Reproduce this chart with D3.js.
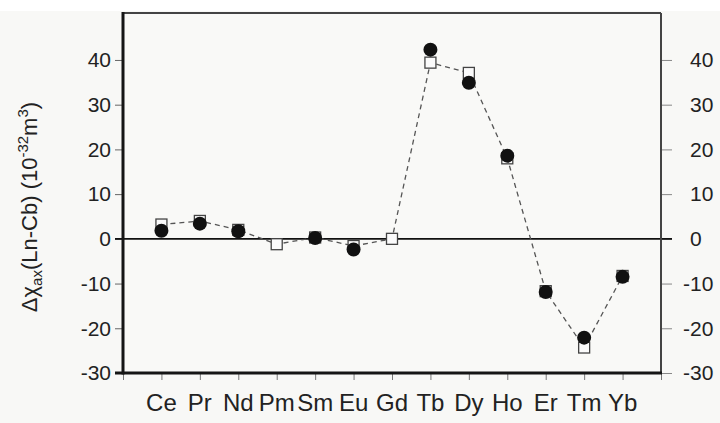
<!DOCTYPE html>
<html>
<head>
<meta charset="utf-8">
<script src="https://cdn.jsdelivr.net/npm/d3@7"></script>
<style>
  body { margin: 0; background: #f8f8f6; }
  svg { display: block; font-family: "Liberation Sans", Arial, sans-serif; }
</style>
</head>
<body>
<script>
// lanthanides along the x axis
var elements = ['Ce', 'Pr', 'Nd', 'Pm', 'Sm', 'Eu', 'Gd', 'Tb', 'Dy', 'Ho', 'Er', 'Tm', 'Yb'];
// open squares (joined by the dashed line)
var squareVals = [3.2, 4.0, 2.0, -1.2, 0.3, -1.6, 0.0, 39.4, 37.1, 18.0, -11.7, -24.3, -8.3];
// filled circles (no value for Pm and Gd)
var circleVals = [1.8, 3.4, 1.7, null, 0.2, -2.4, null, 42.3, 34.9, 18.6, -11.9, -22.1, -8.5];
var yTicks = [-30, -20, -10, 0, 10, 20, 30, 40];

var W = 720, H = 423;
var pL = 123, pR = 661, pT = 13, pB = 373;

var svg = d3.select('body').append('svg')
  .attr('width', W)
  .attr('height', H);

svg.append('rect').attr('width', W).attr('height', H).attr('fill', '#f8f8f6');
svg.append('rect').attr('width', W).attr('height', 11).attr('fill', '#ffffff');

var x = d3.scaleLinear().domain([0, elements.length + 1]).range([pL, pR]);
var y = d3.scaleLinear().domain([-30, 50.5]).range([pB, pT]);

// plot area
svg.append('rect')
  .attr('x', pL).attr('y', pT)
  .attr('width', pR - pL).attr('height', pB - pT)
  .attr('fill', '#f9f9f7');

// left axis (plain hyphen for negatives, as in the original)
var yLeft = d3.axisLeft(y).tickValues(yTicks).tickSize(8).tickPadding(4)
  .tickFormat(function(d) { return String(d); });
var gl = svg.append('g').attr('transform', 'translate(' + pL + ',0)').call(yLeft);
gl.select('.domain').remove();
gl.selectAll('line').attr('stroke', '#666');
gl.selectAll('text').attr('font-size', 21).attr('fill', '#222');

// right axis, labels run off the edge like the original crop
var yRight = d3.axisRight(y).tickValues(yTicks).tickSize(11).tickFormat('');
var gr = svg.append('g').attr('transform', 'translate(' + pR + ',0)').call(yRight);
gr.select('.domain').remove();
gr.selectAll('line').attr('stroke', '#888');
svg.append('g').selectAll('text')
  .data(yTicks)
  .enter().append('text')
  .attr('x', function(d) { return d < 0 ? 683 : 690; })
  .attr('y', function(d) { return y(d); })
  .attr('dy', '0.35em')
  .attr('font-size', 21)
  .attr('fill', '#222')
  .text(function(d) { return String(d); });

// bottom ticks
var xAxis = d3.axisBottom(x).tickValues(d3.range(0, elements.length + 2)).tickSize(7).tickFormat('');
var gb = svg.append('g').attr('transform', 'translate(0,' + pB + ')').call(xAxis);
gb.select('.domain').remove();
gb.selectAll('line').attr('stroke', '#777');

svg.append('g').selectAll('text')
  .data(elements)
  .enter().append('text')
  .attr('x', function(d, i) { return x(i + 1); })
  .attr('y', 411)
  .attr('text-anchor', 'middle')
  .attr('font-size', 24)
  .attr('fill', '#222')
  .text(function(d) { return d; });

// zero line
svg.append('line')
  .attr('x1', pL - 8).attr('x2', pR + 11)
  .attr('y1', y(0)).attr('y2', y(0))
  .attr('stroke', '#111').attr('stroke-width', 1.6);

// frame
svg.append('line').attr('x1', pL).attr('x2', pR).attr('y1', pT).attr('y2', pT)
  .attr('stroke', '#444').attr('stroke-width', 2);
svg.append('line').attr('x1', pR).attr('x2', pR).attr('y1', pT).attr('y2', pB)
  .attr('stroke', '#444').attr('stroke-width', 2);
svg.append('line').attr('x1', pL).attr('x2', pL).attr('y1', pT - 1).attr('y2', pB + 1.5)
  .attr('stroke', '#151515').attr('stroke-width', 3);
svg.append('line').attr('x1', pL - 8).attr('x2', pR + 1).attr('y1', pB).attr('y2', pB)
  .attr('stroke', '#151515').attr('stroke-width', 3);

// dashed line through the squares
var line = d3.line()
  .x(function(d, i) { return x(i + 1); })
  .y(function(d) { return y(d); });
svg.append('path')
  .datum(squareVals)
  .attr('d', line)
  .attr('fill', 'none')
  .attr('stroke', '#555')
  .attr('stroke-width', 1.3)
  .attr('stroke-dasharray', '5,4');

var s = 11;
svg.append('g').selectAll('rect')
  .data(squareVals)
  .enter().append('rect')
  .attr('x', function(d, i) { return x(i + 1) - s / 2; })
  .attr('y', function(d) { return y(d) - s / 2; })
  .attr('width', s).attr('height', s)
  .attr('fill', '#fbfbfb')
  .attr('stroke', '#444')
  .attr('stroke-width', 1.3);

svg.append('g').selectAll('circle')
  .data(circleVals.map(function(v, i) { return {v: v, i: i}; }).filter(function(d) { return d.v !== null; }))
  .enter().append('circle')
  .attr('cx', function(d) { return x(d.i + 1); })
  .attr('cy', function(d) { return y(d.v); })
  .attr('r', 7)
  .attr('fill', '#111');

// y title
var title = svg.append('text')
  .attr('transform', 'translate(37,' + 207 + ') rotate(-90)')
  .attr('text-anchor', 'middle')
  .attr('font-size', 22)
  .attr('fill', '#222');
title.append('tspan').text('\u0394\u03c7');
title.append('tspan').attr('font-size', 15).attr('dy', 5).text('ax');
title.append('tspan').attr('dy', -5).text('(Ln-Cb) (10');
title.append('tspan').attr('font-size', 15).attr('dy', -9).text('-32');
title.append('tspan').attr('dy', 9).text('m');
title.append('tspan').attr('font-size', 15).attr('dy', -9).text('3');
title.append('tspan').attr('dy', 9).text(')');
</script>
</body>
</html>
